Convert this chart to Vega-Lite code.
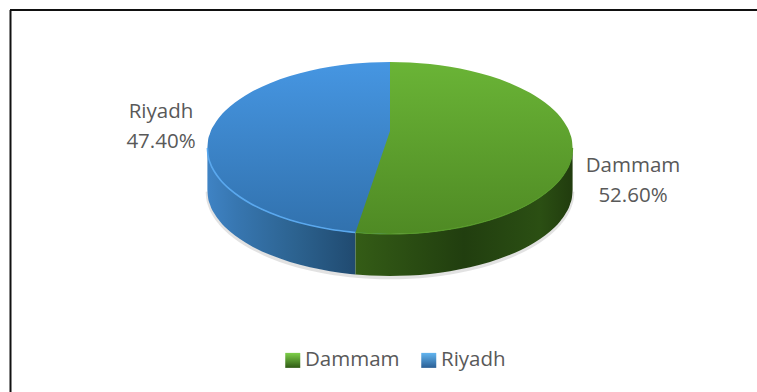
{
  "$schema": "https://vega.github.io/schema/vega-lite/v6.json",
  "width": 757,
  "height": 392,
  "padding": 0,
  "autosize": {"type": "none"},
  "background": "white",
  "config": {"view": {"stroke": null}},
  "datasets": {
    "outline": [
      {"city": "Riyadh", "x": 207.4, "top": 148, "bottom": 148, "base": 190},
      {"city": "Riyadh", "x": 208, "top": 141, "bottom": 155, "base": 197},
      {"city": "Riyadh", "x": 210, "top": 133.5, "bottom": 162.5, "base": 204.5},
      {"city": "Riyadh", "x": 215, "top": 123.5, "bottom": 172.5, "base": 214.5},
      {"city": "Riyadh", "x": 220, "top": 116.6, "bottom": 179.4, "base": 221.4},
      {"city": "Riyadh", "x": 230, "top": 106.6, "bottom": 189.4, "base": 231.4},
      {"city": "Riyadh", "x": 240, "top": 99, "bottom": 197, "base": 239},
      {"city": "Riyadh", "x": 250, "top": 92.8, "bottom": 203.2, "base": 245.2},
      {"city": "Riyadh", "x": 270, "top": 83.2, "bottom": 212.8, "base": 254.8},
      {"city": "Riyadh", "x": 290, "top": 76, "bottom": 220, "base": 262},
      {"city": "Riyadh", "x": 310, "top": 70.7, "bottom": 225.3, "base": 267.3},
      {"city": "Riyadh", "x": 330, "top": 66.8, "bottom": 229.2, "base": 271.2},
      {"city": "Riyadh", "x": 350, "top": 64.1, "bottom": 231.9, "base": 273.9},
      {"city": "Riyadh", "x": 355.5, "top": 63.5, "bottom": 232.5, "base": 274.5},
      {"city": "Riyadh", "x": 370, "top": 62.5, "bottom": 233.5, "base": 275.5},
      {"city": "Riyadh", "x": 390, "top": 62, "bottom": 234, "base": 276},
      {"city": "Dammam", "x": 390, "top": 62, "bottom": 234, "base": 276},
      {"city": "Dammam", "x": 410, "top": 62.5, "bottom": 233.5, "base": 275.5},
      {"city": "Dammam", "x": 430, "top": 64.1, "bottom": 231.9, "base": 273.9},
      {"city": "Dammam", "x": 450, "top": 66.8, "bottom": 229.2, "base": 271.2},
      {"city": "Dammam", "x": 470, "top": 70.7, "bottom": 225.3, "base": 267.3},
      {"city": "Dammam", "x": 490, "top": 76, "bottom": 220, "base": 262},
      {"city": "Dammam", "x": 510, "top": 83.2, "bottom": 212.8, "base": 254.8},
      {"city": "Dammam", "x": 530, "top": 92.8, "bottom": 203.2, "base": 245.2},
      {"city": "Dammam", "x": 540, "top": 99, "bottom": 197, "base": 239},
      {"city": "Dammam", "x": 550, "top": 106.6, "bottom": 189.4, "base": 231.4},
      {"city": "Dammam", "x": 560, "top": 116.6, "bottom": 179.4, "base": 221.4},
      {"city": "Dammam", "x": 565, "top": 123.5, "bottom": 172.5, "base": 214.5},
      {"city": "Dammam", "x": 570, "top": 133.5, "bottom": 162.5, "base": 204.5},
      {"city": "Dammam", "x": 572, "top": 141, "bottom": 155, "base": 197},
      {"city": "Dammam", "x": 572.6, "top": 148, "bottom": 148, "base": 190}
    ],
    "wedge": [
      {"x": 355.5, "edge": 232.5, "bottom": 232.5},
      {"x": 390, "edge": 131, "bottom": 234}
    ],
    "labels": [
      {"city": "Riyadh", "share": 47.4, "text": "Riyadh\n47.40%", "x": 161, "y": 112},
      {"city": "Dammam", "share": 52.6, "text": "Dammam\n52.60%", "x": 633, "y": 166}
    ],
    "frame": [
      {"x": 10, "x2": 757, "y": 10, "y2": 10},
      {"x": 10.5, "x2": 10.5, "y": 10, "y2": 392}
    ]
  },
  "encoding": {
    "x": {"field": "x", "type": "quantitative", "axis": null, "scale": {"domain": [0, 757], "nice": false, "zero": false}},
    "y": {"field": "bottom", "type": "quantitative", "axis": null, "scale": {"domain": [392, 0], "nice": false, "zero": false}}
  },
  "layer": [
    {
      "data": {"name": "outline"},
      "mark": {"type": "line", "interpolate": "monotone", "stroke": "#8a8a8a", "strokeWidth": 3.5, "opacity": 0.25, "yOffset": 1.5},
      "encoding": {"y": {"field": "base"}, "detail": {"value": "shadow"}}
    },
    {
      "data": {"name": "outline"},
      "transform": [{"filter": "datum.x <= 355.5"}],
      "mark": {
        "type": "area",
        "interpolate": "monotone",
        "fill": {
          "gradient": "linear", "x1": 0, "x2": 1, "y1": 0, "y2": 0,
          "stops": [
            {"offset": 0, "color": "#3f83c4"},
            {"offset": 0.2, "color": "#3776b0"},
            {"offset": 0.6, "color": "#2c628f"},
            {"offset": 1, "color": "#204a70"}
          ]
        }
      },
      "encoding": {"y2": {"field": "base"}}
    },
    {
      "data": {"name": "outline"},
      "transform": [{"filter": "datum.x >= 355.5"}],
      "mark": {
        "type": "area",
        "interpolate": "monotone",
        "fill": {
          "gradient": "linear", "x1": 0, "x2": 1, "y1": 0, "y2": 0,
          "stops": [
            {"offset": 0, "color": "#345c16"},
            {"offset": 0.5, "color": "#213e0f"},
            {"offset": 0.85, "color": "#2b4f13"},
            {"offset": 1, "color": "#213c0e"}
          ]
        }
      },
      "encoding": {"y2": {"field": "base"}}
    },
    {
      "data": {"name": "outline"},
      "transform": [{"filter": "datum.city === 'Riyadh'"}],
      "mark": {
        "type": "area",
        "interpolate": "monotone",
        "fill": {
          "gradient": "linear", "x1": 0, "x2": 0, "y1": 0, "y2": 1,
          "stops": [{"offset": 0, "color": "#4696e2"}, {"offset": 1, "color": "#3171ad"}]
        }
      },
      "encoding": {"y": {"field": "top"}, "y2": {"field": "bottom"}}
    },
    {
      "data": {"name": "outline"},
      "transform": [{"filter": "datum.city === 'Dammam'"}],
      "mark": {
        "type": "area",
        "interpolate": "monotone",
        "fill": {
          "gradient": "linear", "x1": 0, "x2": 0, "y1": 0, "y2": 1,
          "stops": [{"offset": 0, "color": "#6ab436"}, {"offset": 1, "color": "#4f8a24"}]
        }
      },
      "encoding": {"y": {"field": "top"}, "y2": {"field": "bottom"}}
    },
    {
      "data": {"name": "wedge"},
      "mark": {
        "type": "area",
        "fill": {
          "gradient": "linear", "x1": 0, "x2": 0, "y1": 0, "y2": 1,
          "stops": [{"offset": 0, "color": "#5fa32f"}, {"offset": 1, "color": "#4f8a24"}]
        }
      },
      "encoding": {"y": {"field": "edge"}, "y2": {"field": "bottom"}}
    },
    {
      "data": {"name": "outline"},
      "transform": [{"filter": "datum.x <= 355.5"}],
      "mark": {"type": "line", "interpolate": "monotone", "stroke": "#5aa8ee", "strokeWidth": 1.6},
      "encoding": {"detail": {"value": "rim"}}
    },
    {
      "data": {"name": "outline"},
      "transform": [{"filter": "datum.x >= 355.5"}],
      "mark": {"type": "line", "interpolate": "monotone", "stroke": "#579a2a", "strokeWidth": 1.2},
      "encoding": {"detail": {"value": "rim"}}
    },
    {
      "data": {"name": "labels"},
      "mark": {"type": "text", "font": "Open Sans", "fontSize": 20.5, "color": "#595959", "align": "center", "baseline": "middle", "lineBreak": "\n", "lineHeight": 30},
      "encoding": {"y": {"field": "y"}, "text": {"field": "text"}}
    },
    {
      "data": {"name": "labels"},
      "mark": {"type": "point", "filled": true, "opacity": 0},
      "encoding": {
        "y": {"field": "y"},
        "shape": {
          "field": "city",
          "type": "nominal",
          "scale": {"domain": ["Dammam", "Riyadh"], "range": ["square", "square"]},
          "legend": {
            "title": null,
            "orient": "none",
            "legendX": 282.5,
            "legendY": 350,
            "direction": "horizontal",
            "symbolSize": 225,
            "symbolOpacity": 1,
            "symbolStrokeWidth": 0,
            "labelFont": "Open Sans",
            "labelFontSize": 20.5,
            "labelColor": "#595959",
            "labelOffset": 2,
            "columnPadding": 18,
            "padding": 0,
            "encoding": {
              "symbols": {
                "fill": {
                  "value": {
                    "signal": "datum.value === 'Riyadh' ? {gradient: 'linear', x1: 0, x2: 0, y1: 0, y2: 1, stops: [{offset: 0, color: '#62b5f0'}, {offset: 1, color: '#2a5f95'}]} : {gradient: 'linear', x1: 0, x2: 0, y1: 0, y2: 1, stops: [{offset: 0, color: '#7ed04a'}, {offset: 1, color: '#2f5a14'}]}"
                  }
                },
                "opacity": {"value": 1}
              }
            }
          }
        }
      }
    },
    {
      "data": {"name": "frame"},
      "mark": {"type": "rule", "color": "#111111", "strokeWidth": 2},
      "encoding": {"y": {"field": "y"}, "x2": {"field": "x2"}, "y2": {"field": "y2"}}
    }
  ]
}
